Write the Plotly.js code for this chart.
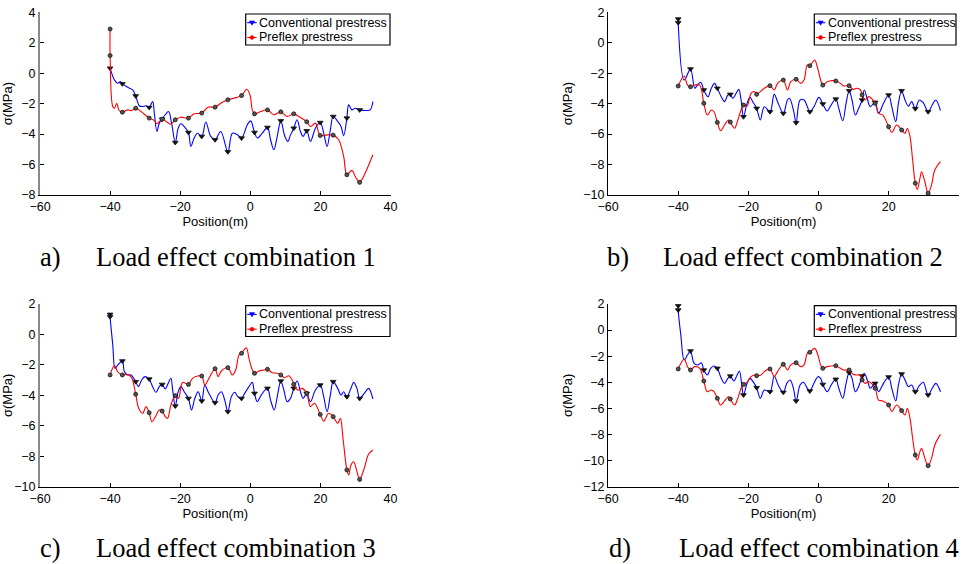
<!DOCTYPE html>
<html>
<head>
<meta charset="utf-8">
<script src="https://cdn.plot.ly/plotly-3.0.1.min.js"></script>
<style>html,body{margin:0;padding:0;background:#fff;}#chart{width:963px;height:564px;}</style>
</head>
<body>
<div id="chart"></div>
<script>
// Section positions (m) where markers are drawn
const sectionX = [-40, -36.5, -32.7, -28.85, -25.15, -21.4, -17.65, -13.85, -10.05, -6.4, -2.5, 1.2, 4.9, 8.7, 12.4, 16.1, 19.95, 23.65, 27.55, 31.2];

// ---- a) Load effect combination 1 ----
const aConTop = null;
const aConMark = [0.33, -0.70, -1.49, -2.25, -3.02, -4.55, -3.89, -4.15, -4.37, -5.16, -4.26, -3.89, -3.56, -3.13, -3.61, -3.78, -3.24, -2.84, -2.95, -2.41];
const aConX = [-38.77, -37.82, -37.06, -34.98, -33.55, -31.66, -30.71, -29.76, -27.87, -27.39, -26.64, -25.97, -24.27, -23.32, -22.46, -20.57, -19.81, -18.86, -16.97, -16.02, -15.07, -12.70, -11.28, -8.44, -5.12, -3.70, -0.85, 0.09, 1.99, 3.41, 5.78, 6.73, 7.68, 9.86, 10.71, 11.47, 13.36, 14.31, 15.07, 17.16, 18.58, 20.95, 21.90, 22.84, 24.93, 25.88, 26.64, 28.06, 29.0, 29.95, 33.27, 34.22, 34.98];
const aConY = [-0.44, -0.66, -0.55, -0.92, -1.10, -2.14, -2.19, -2.14, -1.86, -2.62, -3.83, -3.28, -2.73, -2.52, -3.28, -3.61, -3.32, -3.50, -4.81, -4.26, -3.94, -3.21, -4.15, -3.83, -3.94, -4.05, -3.39, -3.13, -4.26, -3.94, -4.37, -5.03, -4.15, -4.15, -4.48, -4.05, -3.06, -3.83, -4.15, -4.48, -3.61, -3.94, -4.81, -3.72, -3.17, -3.50, -4.11, -2.08, -2.41, -2.30, -2.45, -2.41, -1.86];
const aPreTop = 2.90;
const aPreMark = [1.16, -2.56, -2.30, -2.95, -3.02, -3.06, -2.95, -2.62, -2.23, -1.75, -1.47, -2.67, -2.41, -2.54, -2.67, -3.19, -4.09, -4.07, -6.67, -7.17];
const aPreX = [-39.24, -38.77, -38.10, -37.44, -34.98, -34.03, -31.18, -27.39, -26.64, -23.60, -22.65, -19.81, -16.02, -12.04, -8.44, -4.64, -1.04, -0.09, 0.57, 2.94, 6.73, 10.52, 14.12, 17.16, 18.58, 21.90, 25.21, 26.64, 29.0, 29.95, 32.32, 34.98];
const aPreY = [-2.19, -2.30, -1.97, -2.45, -2.41, -2.47, -2.52, -3.11, -3.32, -3.24, -3.35, -2.89, -2.67, -2.23, -1.97, -1.64, -1.05, -1.42, -2.41, -2.52, -2.73, -2.84, -2.89, -3.50, -3.28, -4.05, -4.37, -5.47, -6.38, -6.78, -6.78, -5.36];

// ---- b) Load effect combination 2 ----
const bConTop = 1.56;
const bConMark = [1.32, -1.72, -3.10, -2.99, -3.39, -4.86, -4.31, -4.53, -4.64, -5.25, -4.53, -4.02, -3.70, -3.15, -3.76, -3.91, -3.43, -3.15, -4.33, -4.53];
const bConX = [-38.30, -35.28, -34.53, -33.58, -31.51, -30.57, -29.62, -27.74, -26.79, -25.85, -24.43, -23.49, -22.74, -22.08, -20.38, -19.53, -18.77, -16.60, -15.47, -12.64, -11.51, -8.87, -8.30, -7.17, -5.28, -4.15, -3.21, -1.32, 0.09, 2.45, 3.40, 5.75, 6.89, 7.83, 9.53, 10.47, 11.42, 13.02, 13.96, 14.72, 17.08, 18.49, 20.85, 21.98, 22.74, 24.62, 25.57, 26.51, 28.68, 29.81, 32.36, 33.40, 34.72];
const bConY = [-2.45, -2.99, -2.78, -2.60, -3.54, -2.99, -2.67, -3.54, -3.87, -3.43, -3.65, -3.32, -3.06, -3.76, -3.98, -3.59, -3.87, -5.07, -4.20, -3.39, -3.98, -3.76, -3.65, -4.42, -3.76, -3.76, -4.20, -4.20, -3.59, -4.48, -4.16, -4.31, -5.12, -3.98, -3.76, -4.75, -4.31, -3.10, -3.76, -4.20, -4.64, -3.98, -4.20, -5.18, -3.98, -3.76, -4.16, -3.87, -3.76, -3.94, -4.09, -3.76, -4.46];
const bPreTop = null;
const bPreMark = [-2.84, -2.89, -3.98, -5.23, -5.21, -4.09, -3.39, -2.82, -2.45, -2.40, -1.51, -2.78, -2.51, -2.82, -3.43, -3.98, -5.51, -5.73, -9.23, -9.89];
const bPreX = [-38.30, -37.36, -35.28, -33.87, -31.70, -30.57, -29.81, -27.92, -26.79, -25.66, -23.96, -23.02, -22.08, -20.38, -19.25, -18.30, -16.60, -15.47, -12.64, -11.70, -8.87, -7.92, -5.09, -4.15, -3.21, -1.13, -0.38, 0.57, 2.45, 3.87, 6.23, 7.17, 9.81, 10.94, 11.89, 13.30, 14.25, 17.08, 18.30, 20.85, 22.26, 24.62, 25.28, 26.04, 26.79, 28.11, 28.87, 29.34, 30.28, 32.17, 33.11, 34.72];
const bPreY = [-2.18, -2.78, -2.78, -2.78, -4.75, -4.42, -4.53, -5.78, -5.40, -5.07, -5.62, -5.07, -4.42, -4.16, -3.32, -3.21, -3.21, -2.99, -3.10, -2.67, -3.10, -2.56, -2.67, -2.45, -1.46, -1.13, -1.57, -2.45, -2.56, -2.49, -2.67, -2.84, -3.06, -2.99, -3.10, -3.76, -3.54, -4.64, -4.75, -5.89, -5.40, -5.95, -5.62, -6.17, -7.70, -9.63, -8.91, -8.47, -9.13, -9.34, -8.36, -7.81];

// ---- c) Load effect combination 3 ----
const cConTop = 1.32;
const cConMark = [1.17, -1.74, -3.10, -2.93, -3.28, -4.70, -4.20, -4.37, -4.48, -5.07, -4.20, -3.87, -3.54, -3.06, -3.54, -3.87, -3.32, -3.10, -4.09, -4.20];
const cConX = [-39.24, -38.58, -37.82, -35.92, -34.98, -34.03, -31.94, -31.0, -30.05, -27.87, -26.92, -25.97, -24.27, -23.32, -22.65, -22.09, -20.57, -19.81, -18.86, -16.78, -15.83, -14.88, -12.99, -12.04, -9.19, -8.25, -7.30, -5.40, -4.45, -3.51, -1.61, -0.38, 0.57, 1.99, 3.13, 5.78, 6.82, 7.77, 9.57, 10.52, 11.47, 13.36, 14.31, 15.07, 17.16, 18.58, 20.95, 21.90, 22.84, 24.93, 25.88, 26.64, 28.72, 29.48, 30.43, 32.51, 33.74, 34.98];
const cConY = [-0.69, -2.23, -2.01, -2.45, -2.66, -2.66, -3.43, -2.99, -2.77, -3.43, -3.80, -3.43, -3.58, -3.15, -2.88, -3.76, -3.76, -3.43, -3.76, -4.96, -4.20, -3.76, -3.32, -3.76, -3.98, -3.76, -4.31, -4.09, -3.80, -4.09, -3.87, -3.43, -3.15, -4.42, -3.98, -4.31, -4.96, -3.98, -3.65, -4.42, -4.20, -3.06, -3.76, -4.20, -4.42, -3.65, -4.09, -5.07, -3.98, -3.54, -3.98, -3.76, -3.54, -3.15, -3.54, -3.87, -3.54, -4.24];
const cPreTop = null;
const cPreMark = [-2.66, -2.66, -3.93, -5.14, -5.03, -4.02, -3.28, -2.73, -2.25, -2.18, -1.24, -2.55, -2.29, -2.66, -3.28, -3.87, -5.25, -5.40, -8.90, -9.52];
const cPreX = [-38.77, -37.82, -35.45, -34.03, -31.85, -30.71, -29.76, -28.06, -26.92, -25.97, -24.27, -23.60, -22.65, -20.47, -19.34, -16.49, -15.07, -12.99, -12.04, -9.19, -8.25, -5.12, -4.17, -3.22, -1.14, -0.38, 0.57, 2.46, 3.89, 6.26, 7.68, 9.76, 11.0, 11.94, 13.55, 14.79, 17.16, 18.29, 20.95, 22.37, 24.93, 25.69, 26.45, 28.06, 28.72, 29.48, 30.43, 32.51, 33.74, 34.98];
const cPreY = [-2.05, -2.45, -2.62, -2.77, -4.85, -5.18, -4.74, -5.73, -5.34, -4.96, -5.40, -5.51, -4.63, -4.20, -3.15, -2.88, -2.73, -3.32, -2.99, -2.77, -2.40, -2.66, -2.34, -1.35, -0.87, -1.57, -2.34, -2.40, -2.34, -2.51, -2.55, -2.84, -2.71, -2.99, -3.65, -3.54, -4.74, -4.52, -5.69, -5.18, -5.84, -5.51, -6.82, -9.23, -8.58, -8.36, -9.01, -8.79, -7.87, -7.59];

// ---- d) Load effect combination 4 ----
const dConTop = 1.87;
const dConMark = [1.54, -1.60, -3.06, -2.93, -3.52, -4.97, -4.41, -4.72, -4.77, -5.43, -4.67, -4.16, -3.77, -3.26, -3.52, -4.08, -3.59, -3.36, -4.72, -4.97];
const dConX = [-39.25, -38.30, -37.36, -35.47, -34.34, -33.40, -31.70, -30.75, -29.81, -27.92, -26.79, -25.85, -24.15, -23.21, -22.55, -21.89, -20.38, -19.53, -18.49, -16.60, -15.47, -12.64, -11.51, -9.06, -8.11, -7.17, -5.28, -4.34, -3.21, -1.32, -0.19, 0.57, 2.45, 3.58, 5.75, 6.89, 7.83, 9.53, 10.47, 11.42, 13.02, 13.96, 14.72, 17.08, 18.49, 20.85, 21.98, 22.74, 24.62, 25.57, 26.51, 28.68, 29.81, 32.36, 33.40, 34.72];
const dConY = [-0.38, -2.29, -1.91, -2.55, -2.67, -2.50, -3.44, -2.93, -2.75, -3.57, -4.08, -3.70, -3.90, -3.44, -3.13, -4.21, -4.08, -3.70, -4.03, -5.23, -4.59, -3.52, -4.21, -4.08, -3.82, -4.46, -4.21, -4.00, -4.46, -4.08, -3.57, -3.70, -4.72, -4.21, -4.46, -5.23, -4.08, -3.70, -4.72, -4.33, -3.31, -3.90, -4.46, -4.72, -4.08, -4.46, -5.43, -4.21, -3.82, -4.33, -4.21, -4.26, -4.00, -4.46, -4.08, -4.72];
const dPreTop = null;
const dPreMark = [-2.98, -3.06, -3.90, -5.23, -5.28, -4.16, -3.49, -2.98, -2.62, -2.50, -1.70, -2.93, -2.73, -3.06, -3.82, -4.46, -5.74, -6.17, -9.57, -10.39];
const dPreX = [-38.30, -37.36, -35.28, -33.87, -31.70, -30.57, -29.81, -27.92, -26.79, -25.66, -23.96, -23.02, -22.08, -20.38, -19.25, -18.30, -16.42, -15.47, -12.64, -11.70, -8.87, -7.92, -5.09, -4.15, -3.21, -1.13, -0.19, 0.57, 2.45, 3.87, 6.23, 7.17, 9.81, 10.94, 11.89, 13.30, 14.25, 17.08, 18.30, 20.85, 22.26, 24.62, 25.28, 26.04, 26.79, 28.11, 28.87, 29.34, 30.28, 32.17, 33.11, 34.72];
const dPreY = [-2.21, -2.80, -2.80, -2.93, -4.72, -4.59, -4.72, -5.74, -5.43, -5.10, -5.74, -5.23, -4.46, -4.00, -3.57, -3.44, -3.44, -3.18, -3.57, -3.18, -3.06, -2.67, -2.80, -2.67, -1.78, -1.40, -1.91, -2.67, -2.80, -2.75, -2.93, -3.06, -3.39, -3.44, -3.44, -4.08, -3.95, -5.36, -5.43, -6.25, -5.74, -6.51, -5.99, -6.76, -8.29, -9.95, -9.31, -9.06, -9.83, -9.83, -8.80, -7.99];

const seriesNames = ['Conventional prestress', 'Preflex prestress'];
const yRanges = [[-8, 4], [-10, 2], [-10, 2], [-12, 2]];
const captionLetters = ['a)', 'b)', 'c)', 'd)'];
const captionTexts = ['Load effect combination 1', 'Load effect combination 2', 'Load effect combination 3', 'Load effect combination 4'];

const panels = [
  {con: [aConTop, aConMark, aConX, aConY], pre: [aPreTop, aPreMark, aPreX, aPreY]},
  {con: [bConTop, bConMark, bConX, bConY], pre: [bPreTop, bPreMark, bPreX, bPreY]},
  {con: [cConTop, cConMark, cConX, cConY], pre: [cPreTop, cPreMark, cPreX, cPreY]},
  {con: [dConTop, dConMark, dConX, dConY], pre: [dPreTop, dPreMark, dPreX, dPreY]}
];

const W = 963, H = 564;
const FONT = 'Liberation Sans, Arial, Helvetica, sans-serif';
const SERIF = 'Liberation Serif, Times New Roman, serif';
// pixel boxes of the four axes: [left, right, top, bottom]
const boxes = [[40, 390.5, 12.3, 195], [608, 959, 12.3, 195], [40, 390.5, 304, 486.7], [608, 959, 304, 486.7]];
// legend boxes [left, right, top, bottom] in px
const legendBoxes = [[245.7, 390, 14, 45], [814.3, 956, 14, 45], [245.7, 390, 305.7, 336.5], [814.3, 956, 305.7, 336.5]];
const captionPos = [[38, 94, 257], [605, 661, 257], [38, 94, 548], [607, 677, 548]];

const px = v => v / W;
const py = v => 1 - v / H;

function buildLine(top, mark, wx, wy) {
  const pts = [];
  if (top !== null) pts.push([sectionX[0], top]);
  sectionX.forEach((x, i) => pts.push([x, mark[i]]));
  wx.forEach((x, i) => pts.push([x, wy[i]]));
  pts.sort((p, q) => p[0] - q[0]);
  return {x: pts.map(p => p[0]), y: pts.map(p => p[1])};
}

const traces = [];
const layout = {
  width: W, height: H,
  margin: {l: 0, r: 0, t: 0, b: 0},
  paper_bgcolor: '#fff', plot_bgcolor: 'rgba(0,0,0,0)',
  showlegend: false,
  annotations: [],
  shapes: [],
  font: {family: FONT, color: '#000'}
};

const styles = [
  {color: '#0000ff', symbol: 'triangle-down', msize: 5, mcolor: '#111', mline: '#111'},
  {color: '#ff0000', symbol: 'circle', msize: 4, mcolor: '#555', mline: '#111'}
];

panels.forEach((p, k) => {
  const sfx = k === 0 ? '' : String(k + 1);
  const xa = 'x' + sfx, ya = 'y' + sfx;
  const b = boxes[k];
  const grayAxis = (k === 0 || k === 2);
  layout['xaxis' + sfx] = {
    domain: [b[0] / W, b[1] / W], anchor: ya, range: [-60, 40], dtick: 20, tick0: 0,
    ticks: 'inside', ticklen: 4, tickcolor: '#000', showline: true, linecolor: '#000', linewidth: 1,
    showgrid: false, zeroline: false, fixedrange: true,
    tickfont: {family: FONT, size: 12.5, color: '#000'},
    title: {text: 'Position(m)', font: {family: FONT, size: 13, color: '#000'}, standoff: 0}
  };
  layout['yaxis' + sfx] = {
    domain: [1 - b[3] / H, 1 - b[2] / H], anchor: xa, range: yRanges[k], dtick: 2, tick0: 0,
    ticks: 'inside', ticklen: 4, tickcolor: '#000', showline: true,
    linecolor: grayAxis ? '#8a8a8a' : '#000', linewidth: grayAxis ? 2 : 1,
    showgrid: false, zeroline: false, fixedrange: true,
    tickfont: {family: FONT, size: 12.5, color: '#000'},
    title: {text: 'σ(MPa)', font: {family: FONT, size: 13, color: '#000'}}
  };
  [p.con, p.pre].forEach((s, j) => {
    const st = styles[j];
    const ln = buildLine(s[0], s[1], s[2], s[3]);
    traces.push({type: 'scatter', mode: 'lines', name: seriesNames[j], x: ln.x, y: ln.y, xaxis: xa, yaxis: ya,
      line: {color: st.color, width: 1.1, shape: 'spline', smoothing: 1}, hoverinfo: 'skip'});
    const mx = sectionX.slice(), my = s[1].slice();
    if (s[0] !== null) { mx.unshift(sectionX[0]); my.unshift(s[0]); }
    traces.push({type: 'scatter', mode: 'markers', name: seriesNames[j], x: mx, y: my, xaxis: xa, yaxis: ya,
      marker: {symbol: st.symbol, size: st.msize, color: st.mcolor, line: {color: st.mline, width: 0.8}},
      hoverinfo: 'skip'});
  });

  // legend box drawn with shapes + text annotations
  const lb = legendBoxes[k];
  layout.shapes.push({type: 'rect', xref: 'paper', yref: 'paper', x0: px(lb[0]), x1: px(lb[1]), y0: py(lb[3]), y1: py(lb[2]),
    fillcolor: '#fff', line: {color: '#000', width: 1.2}, layer: 'above'});
  const rows = [lb[2] + 8.7, lb[2] + 23.5];
  [0, 1].forEach(j => {
    const st = styles[j];
    const cy = rows[j];
    const x0 = lb[0] + 1.5, x1 = lb[0] + 11, cx = lb[0] + 6.3;
    layout.shapes.push({type: 'line', xref: 'paper', yref: 'paper', x0: px(x0), x1: px(x1), y0: py(cy), y1: py(cy),
      line: {color: st.color, width: 1.1}, layer: 'above'});
    if (j === 0) {
      const path = 'M ' + px(cx - 2.6) + ',' + py(cy - 1.8) + ' L ' + px(cx + 2.6) + ',' + py(cy - 1.8) +
        ' L ' + px(cx) + ',' + py(cy + 2.6) + ' Z';
      layout.shapes.push({type: 'path', xref: 'paper', yref: 'paper', path: path, fillcolor: st.color,
        line: {color: st.color, width: 0.5}, layer: 'above'});
    } else {
      layout.shapes.push({type: 'circle', xref: 'paper', yref: 'paper', x0: px(cx - 2), x1: px(cx + 2), y0: py(cy + 2), y1: py(cy - 2),
        fillcolor: st.color, line: {color: st.color, width: 0.5}, layer: 'above'});
    }
    layout.annotations.push({xref: 'paper', yref: 'paper', x: px(lb[0] + 11.5), y: py(cy), xanchor: 'left', yanchor: 'middle',
      text: seriesNames[j], showarrow: false, font: {family: FONT, size: 12.5, color: '#000'}});
  });

  const cp = captionPos[k];
  layout.annotations.push({xref: 'paper', yref: 'paper', x: cp[0] / W, y: 1 - cp[2] / H, xanchor: 'left', yanchor: 'middle',
    text: captionLetters[k], showarrow: false, font: {family: SERIF, size: 26.5, color: '#000'}});
  layout.annotations.push({xref: 'paper', yref: 'paper', x: cp[1] / W, y: 1 - cp[2] / H, xanchor: 'left', yanchor: 'middle',
    text: captionTexts[k], showarrow: false, font: {family: SERIF, size: 26.5, color: '#000'}});
});

Plotly.newPlot('chart', traces, layout, {displayModeBar: false, staticPlot: true});
</script>
</body>
</html>
